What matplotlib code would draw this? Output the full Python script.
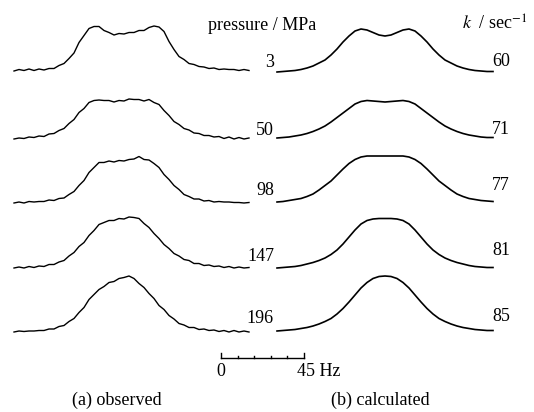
import numpy as np
import matplotlib
matplotlib.use("Agg")
import matplotlib.pyplot as plt

plt.rcParams['font.family'] = ['Liberation Serif', 'DejaVu Serif']
plt.rcParams['mathtext.fontset'] = 'stix'

# ---------------- data ----------------
pressures = ["3", "50", "98", "147", "196"]      # MPa
rates = ["60", "71", "77", "81", "85"]           # k / sec^-1

# observed spectra: intensity (a.u.) on an evenly spaced frequency grid
obs_3 = [0, 1.5, 0.5, 2, 0.5, 2, 1, 2.5, 2.5, 5.5, 7.5, 12.5, 18, 28.5, 35.5, 42.5, 44.5, 44.5, 40.5, 38.5,
         36, 37.5, 37, 38.5, 38.5, 40.5, 40.5, 43.5, 45, 44, 39.5, 29.5, 21.5, 14.5, 11.5, 7.5, 6.5, 4.5,
         4, 2.5, 3, 1.5, 2, 1.5, 1.5, 0.5, 1.5, 0.5]
obs_50 = [0, 1, 0.5, 2, 1.5, 3, 2.5, 5, 5.5, 8.5, 10.5, 15.5, 19.5, 26.5, 30.5, 36.5, 38.5, 39,
          38.5, 38.5, 37, 38.5, 38, 40, 39.5, 39.5, 38, 39.5, 36.5, 34.5, 28.5, 23.5, 17.5, 14.5, 10.5,
          9, 6, 5.5, 3.5, 3.5, 2, 2.5, 0.5, 2, 0, 1.5, 0, 1]
obs_98 = [0, 1, 0, 1.5, 1, 1.5, 1.5, 3, 2.5, 4.5, 5, 8.5, 11.5, 17.5, 22.5, 30.5, 35.5, 40.5, 40.5,
          42, 41, 42.5, 42, 43.5, 44, 46.5, 43.5, 43, 39.5, 35.5, 28.5, 23.5, 17.5, 13.5, 8.5,
          6.5, 4, 4, 2, 2.5, 1, 1.5, 1, 1, 0.5, 0.5, 0, 0.5]
obs_147 = [0, 1, 0, 1.5, 0.5, 2, 1.5, 3.5, 3.5, 6, 7.5, 12, 15.5, 21.5, 25.5, 32.5, 37.5, 43.5,
           45.5, 47.5, 47.5, 49.5, 49, 51, 50.5, 49.5, 44.5, 40.5, 34.5, 29.5, 23.5, 19.5, 14.5, 12, 8.5,
           7.5, 4.5, 4.5, 2.5, 3, 1.5, 2, 0.5, 1.5, 0, 1, 0, 0.5]
obs_196 = [0, 1, 0.5, 1, 1, 1.5, 1.5, 3, 3, 5.5, 6.5, 10.5, 13.5, 19.5, 24.5, 32.5, 37.5, 42.5,
           45.5, 49.5, 50.5, 53.5, 54.5, 56, 53.5, 48.5, 44.5, 38.5, 33.5, 26.5, 22.5, 16.5, 13, 8.5, 7, 4.5,
           4.5, 2.5, 3, 1.5, 2, 0.5, 1.5, 0, 1.5, 0, 1, 0]

# calculated spectra
calc_60 = [0, 0.5, 1, 1.5, 2.5, 4, 6, 9, 12, 17, 23, 30, 36, 41, 43, 42, 39.5, 37,
           36, 37, 39.5, 42, 43, 41, 36, 30, 23, 17, 12, 9, 6, 4, 2.5, 1.5, 1, 0.5, 0.5]
calc_71 = [0, 0.5, 1, 2, 3, 4.5, 6.5, 9, 12, 16, 20.5, 25, 29.5, 34, 36.5, 37.5, 37,
           36.5, 36, 36.5, 37, 37.5, 36.5, 34, 29.5, 25, 20.5, 16, 12, 9, 6.5, 4.5,
           3, 2, 1, 0.5, 0.5]
calc_77 = [0, 0.5, 1.5, 2.5, 3.5, 5.5, 8, 12, 16.5, 21, 27, 33, 38.5, 42.5, 45, 46,
           46, 46, 46, 46, 46, 46, 45, 42.5, 38.5, 33, 27, 21, 16.5, 12, 8, 5.5, 3.5,
           2.5, 1.5, 1, 0.5]
calc_81 = [0, 0.5, 1, 1.5, 2.5, 4, 5.5, 7.5, 10, 13.5, 18, 24, 31, 38, 44, 47.5, 49,
           49.5, 49.5, 49.5, 49, 47.5, 44, 38, 31, 24, 18, 13.5, 10, 7.5, 5.5, 4, 2.5,
           1.5, 1, 0.5, 0.5]
calc_85 = [0, 0.5, 1, 1.5, 2.5, 3.5, 5, 7, 9.5, 12.5, 17, 22.5, 29, 36, 43, 48.5,
           52.5, 54.5, 55, 54.5, 52.5, 48.5, 43, 36, 29, 22.5, 17, 12.5, 9.5, 7, 5,
           3.5, 2.5, 1.5, 1, 0.5, 0.5]

observed = [obs_3, obs_50, obs_98, obs_147, obs_196]
calculated = [calc_60, calc_71, calc_77, calc_81, calc_85]

OBS_SPAN_HZ = 127.4     # frequency window of observed traces
CALC_SPAN_HZ = 117.1    # frequency window of calculated traces
SCALE_HZ = 45
SCALE_TICK_HZ = 9

# ---------------- layout ----------------
W, H = 534, 412
PX_PER_HZ = 83 / 45.0
OBS_CX, CALC_CX = 131.5, 385
OBS_BASE = [71, 139, 203, 268, 332]
CALC_BASE = [72, 138, 202, 268, 331]
P_LABEL_Y = [67, 135, 195, 261, 323]
K_LABEL_Y = [66, 134, 190, 255, 321]
FS = 13

fig = plt.figure(figsize=(W / 100, H / 100), dpi=100)
ax = fig.add_axes([0, 0, 1, 1])
ax.set_xlim(0, W)
ax.set_ylim(H, 0)
ax.axis('off')

for i in range(5):
    yo = np.asarray(observed[i], dtype=float)
    fo = np.linspace(-OBS_SPAN_HZ / 2, OBS_SPAN_HZ / 2, len(yo))
    ax.plot(OBS_CX + fo * PX_PER_HZ, OBS_BASE[i] - yo, color='black', lw=1.0)

    yc = np.asarray(calculated[i], dtype=float)
    fc = np.linspace(-CALC_SPAN_HZ / 2, CALC_SPAN_HZ / 2, len(yc))
    ax.plot(CALC_CX + fc * PX_PER_HZ, CALC_BASE[i] - yc, color='black', lw=1.2)

    ax.text(274, P_LABEL_Y[i], pressures[i], ha='right', va='baseline', fontsize=FS)
    ax.text(492, K_LABEL_Y[i], rates[i], ha='left', va='baseline', fontsize=FS)

ax.text(208, 30, "pressure / MPa", ha='left', va='baseline', fontsize=FS)
ax.text(462, 30, r"$k$  / sec$^{-1}$", ha='left', va='baseline', fontsize=FS)

# scale bar
x0 = 221
ax.plot([x0, x0 + SCALE_HZ * PX_PER_HZ], [358, 358], color='black', lw=1.0)
for t in np.arange(0, SCALE_HZ + 1, SCALE_TICK_HZ):
    length = 5 if t in (0, SCALE_HZ) else 2.5
    xt = x0 + t * PX_PER_HZ
    ax.plot([xt, xt], [358, 358 - length], color='black', lw=1.0)
ax.text(x0, 376, "0", ha='center', va='baseline', fontsize=FS)
ax.text(x0 + SCALE_HZ * PX_PER_HZ - 7, 376, "45 Hz", ha='left', va='baseline', fontsize=FS)

ax.text(117, 405, "(a) observed", ha='center', va='baseline', fontsize=FS)
ax.text(380, 405, "(b) calculated", ha='center', va='baseline', fontsize=FS)

fig.savefig("out.png", dpi=100)
